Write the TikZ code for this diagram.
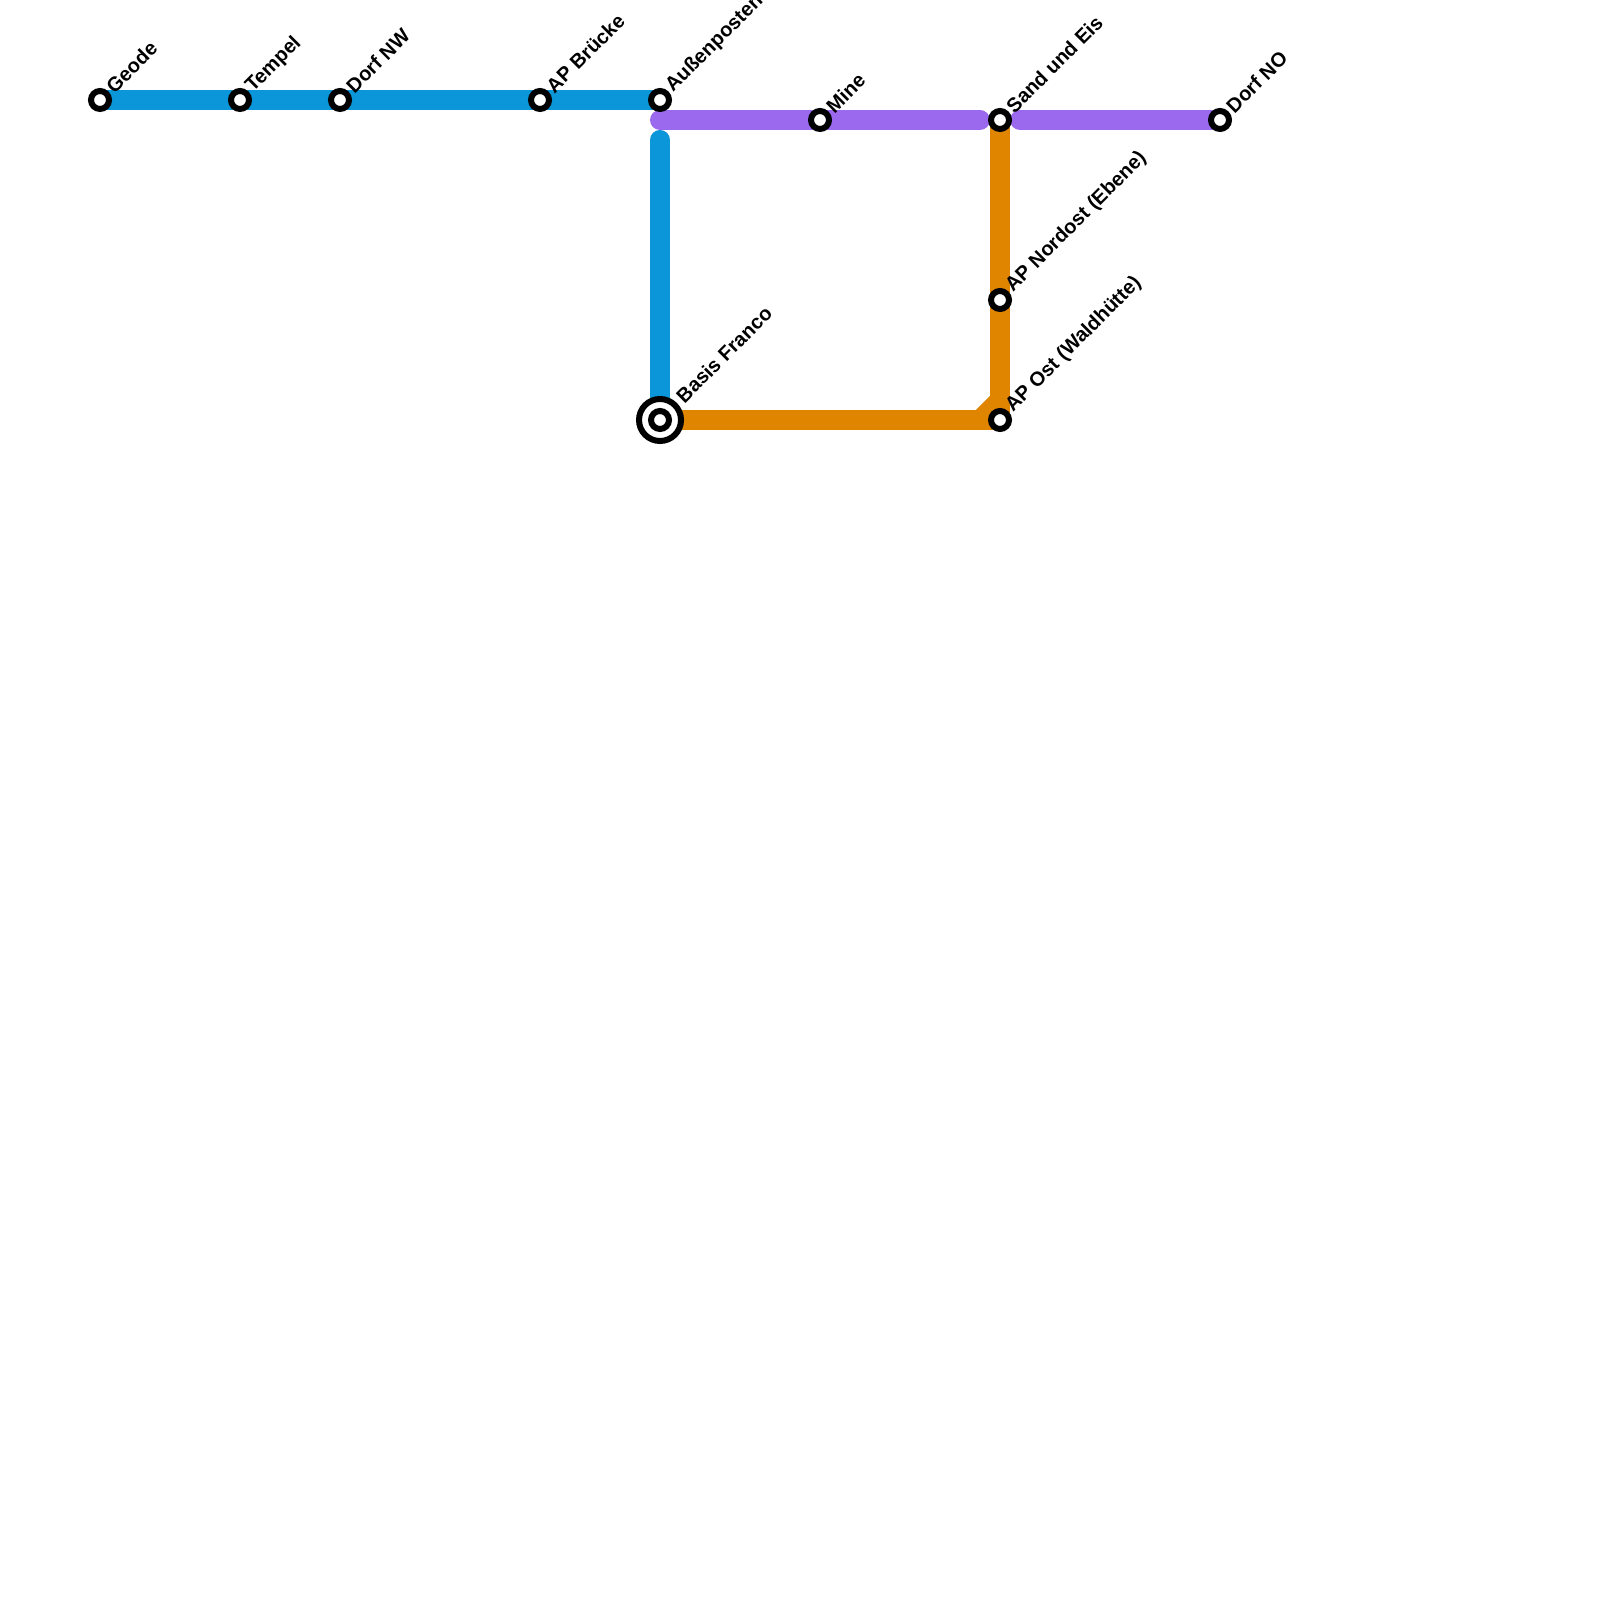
\documentclass[tikz,border=0pt]{standalone}
\usepackage{fontspec}
\setmainfont{Liberation Sans}
\usepackage{tikz}
\usetikzlibrary{positioning}
\definecolor{lineblue}{HTML}{0A96D9}
\definecolor{linepurple}{HTML}{9B69EE}
\definecolor{lineorange}{HTML}{DF8500}

\begin{document}
\begin{tikzpicture}[x=1cm,y=1cm]
\tikzstyle{st}=[circle,draw,line width=0.06cm,fill=white,minimum size=0.18cm,inner sep=0pt]
\tikzstyle{hub}=[circle,draw,line width=0.06cm,fill=white,minimum size=0.42cm,inner sep=0pt]
\tikzstyle{lab}=[rotate=45,anchor=west,inner sep=0pt,font=\fontsize{5.7pt}{7pt}\selectfont\bfseries]
\tikzstyle{ln}=[line width=0.2cm]
\useasboundingbox (0,0) rectangle (16,-16);
% where the lines run
\coordinate (geode) at (1,-1);
\coordinate (tempel) at (2.4,-1);
\coordinate (dorfnw) at (3.4,-1);
\coordinate (bruecke) at (5.4,-1);
\coordinate (aussen) at (6.6,-1);
\coordinate (mine) at (8.2,-1.2);
\coordinate (sand) at (10,-1.2);
\coordinate (dorfno) at (12.2,-1.2);
\coordinate (nordost) at (10,-3);
\coordinate (ost) at (10,-4.2);
\coordinate (basis) at (6.6,-4.2);
\coordinate (blueend) at (6.6,-1.4);
\coordinate (purplea) at (6.6,-1.2);
\coordinate (purpleb) at (9.8,-1.2);
\coordinate (purplec) at (10.2,-1.2);
\coordinate (bendin) at (9.8,-4.2);
\coordinate (bendout) at (10,-4);
% lines
\draw[ln,lineblue] (geode) -- (aussen);
\draw[ln,lineblue,line cap=round] (blueend) -- (basis);
\draw[ln,linepurple,line cap=round] (purplea) -- (purpleb);
\draw[ln,linepurple,line cap=round] (purplec) -- (dorfno);
\draw[ln,lineorange] (basis) -- (ost);
\draw[ln,lineorange] (sand) -- (ost);
\draw[ln,lineorange] (bendin) -- (bendout);
% stations
\node[st] (sgeode) at (geode) {};
\node[st] (stempel) at (tempel) {};
\node[st] (sdorfnw) at (dorfnw) {};
\node[st] (sbruecke) at (bruecke) {};
\node[st] (saussen) at (aussen) {};
\node[st] (smine) at (mine) {};
\node[st] (ssand) at (sand) {};
\node[st] (sdorfno) at (dorfno) {};
\node[st] (snordost) at (nordost) {};
\node[st] (sost) at (ost) {};
\node[hub] (hbasis) at (basis) {};
\node[st] (sbasis) at (basis) {};
% labels
\node[lab] (lgeode) at (1.09,-0.895) {Geode};
\node[lab] (ltempel) at (2.49,-0.895) {Tempel};
\node[lab] (ldorfnw) at (3.49,-0.895) {Dorf NW};
\node[lab] (lbruecke) at (5.49,-0.895) {AP Brücke};
\node[lab] (laussen) at (6.69,-0.895) {Außenposten};
\node[lab] (lmine) at (8.29,-1.095) {Mine};
\node[lab] (lsand) at (10.09,-1.095) {Sand und Eis};
\node[lab] (ldorfno) at (12.29,-1.095) {Dorf NO};
\node[lab] (lnordost) at (10.09,-2.895) {AP Nordost (Ebene)};
\node[lab] (lost) at (10.09,-4.095) {AP Ost (Waldhütte)};
\node[lab] (lbasis) at (6.79,-3.995) {Basis Franco};
\end{tikzpicture}
\end{document}
